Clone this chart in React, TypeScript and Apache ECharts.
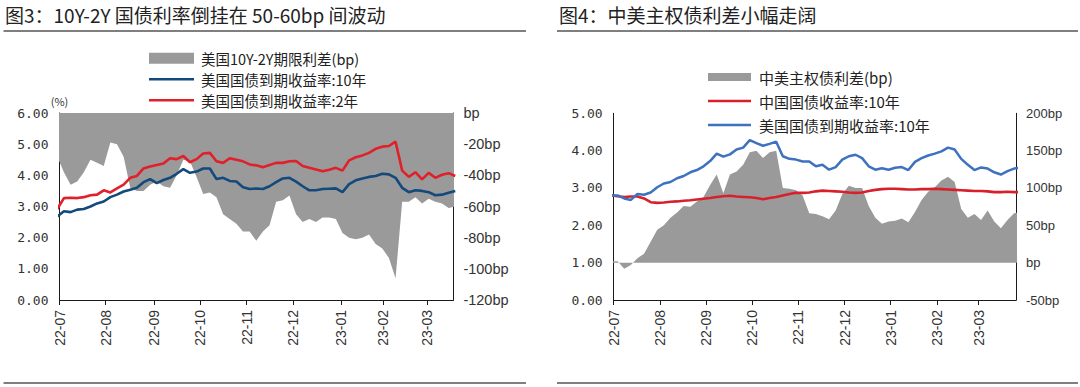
import React, { useEffect, useRef } from "react";
import * as echarts from "echarts";

// ---------- tick labels (positions in trading-day index units) ----------
const monthLabels = ["22-07", "22-08", "22-09", "22-10", "22-11", "22-12", "23-01", "23-02", "23-03"];
const leftTickIdx = [0, 21, 43, 64, 85, 106, 128, 147, 167];
const rightTickIdx = [0, 21, 42, 63, 84, 105, 126, 147, 166];

// ---------- 图3 data (sampled every ~3 trading days) ----------
const LEFT_SPAN = 179;
const LEFT_X0 = -1;
const LEFT_DX = 3.014;
const spreadUS10y2y = [
  -28, -38, -46, -44, -38, -30, -32, -34, -19, -20,
  -28, -48, -50, -50, -46, -44, -47, -48, -40, -30,
  -31, -41, -52, -51, -54, -65, -68, -71, -76, -76,
  -82, -76, -72, -57, -56, -53, -65, -70, -68, -70,
  -67, -67, -68, -77, -80, -81, -80, -78, -84, -87,
  -93, -106, -57, -57, -54, -58, -55, -57, -58, -61,
  -60,
];
const us10yLeft = [
  2.68, 2.85, 2.82, 2.90, 2.92, 3.00, 3.10, 3.16, 3.30, 3.38,
  3.48, 3.54, 3.60, 3.78, 3.88, 3.75, 3.85, 3.92, 4.05, 4.20,
  4.08, 4.12, 4.22, 4.22, 3.88, 3.92, 3.82, 3.80, 3.62, 3.56,
  3.58, 3.56, 3.65, 3.78, 3.90, 3.92, 3.80, 3.65, 3.52, 3.52,
  3.56, 3.57, 3.58, 3.46, 3.72, 3.84, 3.90, 3.95, 3.98, 4.05,
  4.03, 3.92, 3.60, 3.46, 3.52, 3.50, 3.46, 3.36, 3.38, 3.44,
  3.50,
];
const us2yLeft = [
  2.92, 3.27, 3.28, 3.27, 3.30, 3.36, 3.38, 3.52, 3.45, 3.58,
  3.70, 3.92, 3.98, 4.22, 4.28, 4.33, 4.38, 4.55, 4.52, 4.62,
  4.42, 4.52, 4.70, 4.72, 4.45, 4.40, 4.55, 4.50, 4.45, 4.35,
  4.32, 4.26, 4.33, 4.40, 4.40, 4.45, 4.46, 4.30, 4.24, 4.19,
  4.13, 4.18, 4.24, 4.15, 4.48, 4.58, 4.64, 4.72, 4.85, 4.92,
  4.94, 5.08, 4.15, 3.95, 4.10, 3.87, 4.08, 3.92, 4.02, 4.07,
  3.98,
];

// ---------- 图4 data ----------
const RIGHT_SPAN = 183;
const RIGHT_X0 = -1.23;
const RIGHT_DX = 3.006;
const spreadUSCN = [
  2, 2, -8, -3, 6, 12, 28, 44, 50, 60,
  67, 76, 75, 82, 88, 104, 118, 93, 118, 122,
  131, 148, 150, 140, 148, 150, 100, 99, 97, 90,
  66, 65, 62, 58, 70, 92, 103, 100, 100, 76,
  60, 52, 55, 56, 59, 54, 68, 84, 95, 101,
  110, 115, 108, 72, 60, 65, 57, 70, 55, 46,
  57, 66, 68,
];
const cn10y = [
  2.80, 2.78, 2.76, 2.77, 2.77, 2.72, 2.62, 2.60, 2.61, 2.63,
  2.64, 2.66, 2.67, 2.69, 2.71, 2.73, 2.76, 2.78, 2.79, 2.77,
  2.76, 2.75, 2.73, 2.70, 2.73, 2.76, 2.80, 2.84, 2.87, 2.87,
  2.88, 2.91, 2.93, 2.92, 2.91, 2.90, 2.88, 2.87, 2.88, 2.92,
  2.95, 2.97, 2.98, 2.98, 2.97, 2.96, 2.96, 2.97, 2.97, 2.98,
  2.97, 2.96, 2.95, 2.94, 2.93, 2.92, 2.92, 2.91, 2.89, 2.89,
  2.90, 2.89, 2.89,
];
const us10yRight = [
  2.80, 2.80, 2.72, 2.68, 2.84, 2.82, 2.88, 3.02, 3.12, 3.16,
  3.26, 3.32, 3.42, 3.48, 3.58, 3.72, 3.92, 3.84, 3.90, 4.03,
  4.08, 4.28, 4.20, 4.13, 4.18, 4.24, 3.85, 3.78, 3.76, 3.71,
  3.71, 3.58, 3.62, 3.49, 3.56, 3.76, 3.85, 3.89, 3.80, 3.58,
  3.49, 3.53, 3.49, 3.54, 3.56, 3.48, 3.70, 3.80, 3.87, 3.92,
  3.98, 4.08, 4.03, 3.78, 3.62, 3.48, 3.55, 3.52, 3.42, 3.36,
  3.45, 3.52, 3.55,
];

const NAME_L_SPREAD = "美国10Y-2Y期限利差(bp)";
const NAME_US10 = "美国国债到期收益率:10年";
const NAME_US2 = "美国国债到期收益率:2年";
const NAME_R_SPREAD = "中美主权债利差(bp)";
const NAME_CN10 = "中国国债收益率:10年";

const GRAY = "#9a9a9a";
const NAVY = "#13497b";
const RED_L = "#e0202a";
const RED_R = "#d7202b";
const BLUE_R = "#3d72bf";
const AXIS = "#1a1a1a";
const TXT = "#333";
const CJK = "Noto Sans CJK SC";
const LINE_ICON = "path://M0,0L100,0L100,6L0,6Z";

const toPairs = (arr: number[], x0: number, dx: number) => arr.map((v, i) => [x0 + dx * i, v]);

const bpFmt = (v: number) => (v === 0 ? "bp" : `${v}bp`);

function xAxis(gridIndex: number, span: number, ticks: number[]) {
  return {
    type: "value",
    gridIndex,
    min: 0,
    max: span,
    axisLine: { show: true, onZero: false, lineStyle: { color: AXIS, width: 1 } },
    axisTick: { show: true, customValues: ticks, length: 5, lineStyle: { color: AXIS } },
    axisLabel: {
      customValues: ticks,
      rotate: 90,
      margin: 10,
      fontSize: 14,
      color: TXT,
      fontFamily: "Liberation Sans",
      formatter: (v: number) => {
        const k = ticks.indexOf(v);
        return k >= 0 ? monthLabels[k] : "";
      },
    },
    splitLine: { show: false },
  };
}

function yAxis(gridIndex: number, pos: string, min: number, max: number, interval: number, fmt: any, extra: any = {}) {
  return {
    type: "value",
    gridIndex,
    position: pos,
    min,
    max,
    interval,
    axisLine: { show: true, onZero: false, lineStyle: { color: AXIS, width: 1 } },
    axisTick: { show: false },
    splitLine: { show: false },
    axisLabel: { formatter: fmt, margin: 10, color: TXT, ...(extra.label || {}) },
    ...(extra.axis || {}),
  };
}

export default function App() {
  const ref = useRef<HTMLDivElement>(null);
  useEffect(() => {
    if (!ref.current) return;
    const chart = echarts.init(ref.current, undefined, { renderer: "svg" });
    const monoLabel = { fontFamily: "DejaVu Sans Mono", fontSize: 13, margin: 11 };
    const titleStyle = { fontSize: 19, fontWeight: "normal", color: "#222", fontFamily: CJK };
    chart.setOption({
      animation: false,
      backgroundColor: "#fff",
      title: [
        { text: "图3：10Y-2Y 国债利率倒挂在 50-60bp 间波动", left: 5, top: 5, padding: 0, textStyle: titleStyle },
        { text: "图4：中美主权债利差小幅走阔", left: 559, top: 5, padding: 0, textStyle: titleStyle },
      ],
      legend: [
        {
          orient: "vertical",
          left: 149,
          top: 51,
          padding: 0,
          itemWidth: 45,
          itemHeight: 11,
          itemGap: 6.5,
          selectedMode: false,
          textStyle: { fontSize: 14.5, lineHeight: 14.5, color: "#222", fontFamily: CJK, padding: [0, 0, 0, 2] },
          data: [
            { name: NAME_L_SPREAD, icon: "rect", itemStyle: { color: GRAY } },
            { name: NAME_US10, icon: LINE_ICON, itemStyle: { color: NAVY } },
            { name: NAME_US2, icon: LINE_ICON, itemStyle: { color: RED_L } },
          ],
        },
        {
          orient: "vertical",
          left: 708,
          top: 69.5,
          padding: 0,
          itemWidth: 43,
          itemHeight: 8,
          itemGap: 9,
          selectedMode: false,
          textStyle: { fontSize: 15, lineHeight: 15, color: "#222", fontFamily: CJK, padding: [0, 0, 0, 3] },
          data: [
            { name: NAME_R_SPREAD, icon: "rect", itemStyle: { color: GRAY } },
            { name: NAME_CN10, icon: LINE_ICON, itemStyle: { color: RED_R } },
            { name: NAME_US10, icon: LINE_ICON, itemStyle: { color: BLUE_R } },
          ],
        },
      ],
      grid: [
        { left: 59.5, top: 113, width: 393.9, height: 187 },
        { left: 613.7, top: 113.3, width: 402.3, height: 186.7 },
      ],
      xAxis: [xAxis(0, LEFT_SPAN, leftTickIdx), xAxis(1, RIGHT_SPAN, rightTickIdx)],
      yAxis: [
        yAxis(0, "left", 0, 6, 1, (v: number) => v.toFixed(2), {
          label: monoLabel,
          axis: { name: "(%)", nameGap: 5, nameTextStyle: { fontSize: 11, color: TXT, fontFamily: CJK } },
        }),
        yAxis(0, "right", -120, 0, 20, bpFmt, { label: { fontSize: 14.5, fontFamily: "Liberation Sans" } }),
        yAxis(1, "left", 0, 5, 1, (v: number) => v.toFixed(2), { label: monoLabel }),
        yAxis(1, "right", -50, 200, 50, bpFmt, { label: { fontSize: 13, fontFamily: "Liberation Sans" } }),
      ],
      series: [
        {
          name: NAME_L_SPREAD,
          type: "line",
          xAxisIndex: 0,
          yAxisIndex: 1,
          data: toPairs(spreadUS10y2y, LEFT_X0, LEFT_DX),
          symbol: "none",
          clip: true,
          color: GRAY,
          lineStyle: { width: 0 },
          areaStyle: { color: GRAY, opacity: 1 },
        },
        {
          name: NAME_US10,
          type: "line",
          xAxisIndex: 0,
          yAxisIndex: 0,
          data: toPairs(us10yLeft, LEFT_X0, LEFT_DX),
          symbol: "none",
          clip: true,
          color: NAVY,
          lineStyle: { width: 2.6, color: NAVY },
        },
        {
          name: NAME_US2,
          type: "line",
          xAxisIndex: 0,
          yAxisIndex: 0,
          data: toPairs(us2yLeft, LEFT_X0, LEFT_DX),
          symbol: "none",
          clip: true,
          color: RED_L,
          lineStyle: { width: 2.6, color: RED_L },
        },
        {
          name: NAME_R_SPREAD,
          type: "line",
          xAxisIndex: 1,
          yAxisIndex: 3,
          data: toPairs(spreadUSCN, RIGHT_X0, RIGHT_DX),
          symbol: "none",
          clip: true,
          color: GRAY,
          lineStyle: { width: 0 },
          areaStyle: { color: GRAY, opacity: 1 },
        },
        {
          name: NAME_CN10,
          type: "line",
          xAxisIndex: 1,
          yAxisIndex: 2,
          data: toPairs(cn10y, RIGHT_X0, RIGHT_DX),
          symbol: "none",
          clip: true,
          color: RED_R,
          lineStyle: { width: 2.6, color: RED_R },
        },
        {
          name: NAME_US10,
          type: "line",
          xAxisIndex: 1,
          yAxisIndex: 2,
          data: toPairs(us10yRight, RIGHT_X0, RIGHT_DX),
          symbol: "none",
          clip: true,
          color: BLUE_R,
          lineStyle: { width: 2.5, color: BLUE_R },
        },
      ],
      graphic: [
        { type: "line", shape: { x1: 3.5, y1: 31, x2: 526, y2: 31 }, style: { stroke: "#555", lineWidth: 1.3 } },
        { type: "line", shape: { x1: 3.5, y1: 383, x2: 526, y2: 383 }, style: { stroke: "#555", lineWidth: 1.3 } },
        { type: "line", shape: { x1: 557, y1: 31, x2: 1078, y2: 31 }, style: { stroke: "#555", lineWidth: 1.3 } },
        { type: "line", shape: { x1: 557, y1: 383, x2: 1078, y2: 383 }, style: { stroke: "#555", lineWidth: 1.3 } },
      ],
    });
    return () => chart.dispose();
  }, []);
  return (
    <div
      ref={ref}
      style={{ position: "absolute", left: 0, top: 0, width: 1080, height: 387, background: "#fff" }}
    />
  );
}
